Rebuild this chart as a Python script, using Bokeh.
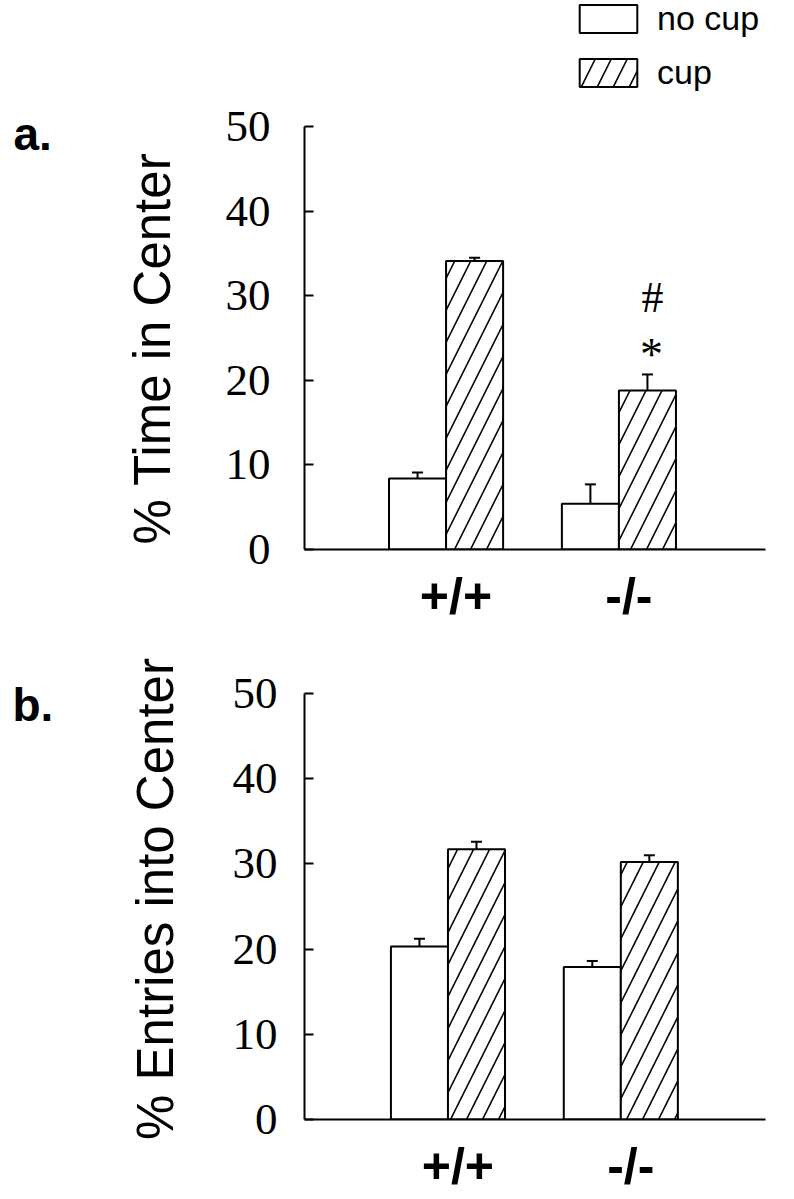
from bokeh.plotting import figure
from bokeh.models import (Range1d, FixedTicker, Whisker, TeeHead, ColumnDataSource,
                          Label, Legend, LegendItem, CustomJSTickFormatter, Title)
from bokeh.layouts import column
from bokeh.embed import file_html
from bokeh.resources import INLINE

# ---------------- data ----------------
genotypes = ["+/+", "-/-"]
series_names = ["no cup", "cup"]
y_ticks = [0, 10, 20, 30, 40, 50]

time_nocup = [8.4, 5.4]
time_nocup_err = [0.7, 2.3]
time_cup = [34.1, 18.8]
time_cup_err = [0.4, 1.9]

entries_nocup = [20.3, 17.9]
entries_nocup_err = [0.9, 0.7]
entries_cup = [31.7, 30.2]
entries_cup_err = [0.9, 0.8]

panel_tags = ["a.", "b."]
y_titles = ["% Time in Center", "% Entries into Center"]
sig_marks = ["#", "*"]

# ---------------- style ----------------
BAR_W = 0.33
OFF = BAR_W / 2
LABEL_SHIFT = 0.0575
SERIF = "Liberation Serif"
SANS = "Liberation Sans"
FIG_W = 780


def make_panel(nocup, nocup_err, cup, cup_err, tag, ytitle, height, mb_left, mb_right,
               mb_top, mb_bottom, px_per_unit, xr, tick_standoff, title_size,
               title_mode, title_standoff, title_offset, tag_xy):
    frame_h = height - mb_bottom - mb_top
    p = figure(width=FIG_W, height=height, output_backend="svg", toolbar_location=None,
               x_range=Range1d(*xr), y_range=Range1d(0, frame_h / px_per_unit),
               min_border_left=mb_left, min_border_right=mb_right,
               min_border_top=mb_top, min_border_bottom=mb_bottom)
    p.outline_line_color = None
    p.grid.visible = False
    p.background_fill_color = "white"
    p.border_fill_color = "white"

    idx = list(range(len(genotypes)))
    src_n = ColumnDataSource(dict(x=[i - OFF for i in idx], top=nocup,
                                  upper=[v + e for v, e in zip(nocup, nocup_err)]))
    src_c = ColumnDataSource(dict(x=[i + OFF for i in idx], top=cup,
                                  upper=[v + e for v, e in zip(cup, cup_err)]))

    for src in (src_n, src_c):
        p.add_layout(Whisker(source=src, base="x", lower="top", upper="upper",
                             line_color="black", line_width=2,
                             upper_head=TeeHead(size=11, line_color="black", line_width=2),
                             lower_head=None, level="glyph"))

    r_n = p.vbar(x="x", top="top", width=BAR_W, bottom=0, source=src_n,
                 fill_color="white", line_color="black", line_width=2)
    r_c = p.vbar(x="x", top="top", width=BAR_W, bottom=0, source=src_c,
                 fill_color="white", line_color="black", line_width=2,
                 hatch_pattern="/", hatch_color="black", hatch_scale=32, hatch_weight=1.6)

    # main y axis
    ya = p.yaxis[0]
    ya.ticker = FixedTicker(ticks=y_ticks)
    ya.bounds = (0, 50)
    ya.axis_line_width = 2
    ya.major_tick_line_width = 2
    ya.major_tick_in = 9
    ya.major_tick_out = 0
    ya.minor_tick_line_color = None
    ya.major_label_standoff = tick_standoff
    ya.major_label_text_font = SERIF
    ya.major_label_text_font_size = "45px"
    ya.major_label_text_color = "black"

    if title_mode == "axis":
        ya.axis_label = ytitle
        ya.axis_label_text_font = SANS
        ya.axis_label_text_font_style = "normal"
        ya.axis_label_text_font_size = f"{title_size}px"
        ya.axis_label_text_color = "black"
        ya.axis_label_standoff = title_standoff
    else:
        # side title, aligned to the bottom of the frame
        p.add_layout(Title(text=ytitle, align="left", vertical_align="bottom",
                           offset=title_offset, standoff=title_standoff,
                           text_font=SANS, text_font_style="normal",
                           text_font_size=f"{title_size}px", text_color="black"), "left")

    # panel tag, placed in the left border panel (not clipped by the frame)
    p.add_layout(Label(x=tag_xy[0], y=tag_xy[1], text=tag, text_align="left",
                       text_baseline="alphabetic", text_font=SANS,
                       text_font_style="bold", text_font_size="46px",
                       text_color="black"), "left")

    # x axis: baseline plus genotype labels
    xa = p.xaxis[0]
    xa.ticker = FixedTicker(ticks=[i + LABEL_SHIFT for i in idx])
    xa.formatter = CustomJSTickFormatter(args=dict(labels=genotypes),
                                         code="return labels[Math.round(tick)];")
    xa.axis_line_width = 2
    xa.major_tick_line_color = None
    xa.major_tick_out = 0
    xa.major_tick_in = 0
    xa.minor_tick_line_color = None
    xa.major_label_standoff = 18
    xa.major_label_text_font = SANS
    xa.major_label_text_font_style = "bold"
    xa.major_label_text_font_size = "50px"
    xa.major_label_text_color = "black"
    return p, r_n, r_c


pa, ra_n, ra_c = make_panel(time_nocup, time_nocup_err, time_cup, time_cup_err,
                            panel_tags[0], y_titles[0], height=626, mb_left=301,
                            mb_right=FIG_W - 765, mb_top=0, mb_bottom=69, px_per_unit=8.58,
                            xr=(-0.819, 1.848), tick_standoff=34, title_size=51,
                            title_mode="title", title_standoff=84, title_offset=5,
                            tag_xy=(-2.503, 49.18))

pb, rb_n, rb_c = make_panel(entries_nocup, entries_nocup_err, entries_cup, entries_cup_err,
                            panel_tags[1], y_titles[1], height=570, mb_left=304,
                            mb_right=FIG_W - 768, mb_top=52, mb_bottom=72, px_per_unit=8.62,
                            xr=(-0.830, 1.837), tick_standoff=27, title_size=51,
                            title_mode="axis", title_standoff=46, title_offset=0,
                            tag_xy=(-2.520, 48.61))

# significance marks above the -/- cup bar in panel a
top_c = time_cup[1] + time_cup_err[1]
pa.add_layout(Label(x=1 + OFF, y=top_c, y_offset=77, x_offset=5, text=sig_marks[0],
                    text_align="center", text_baseline="alphabetic", text_font=SERIF,
                    text_font_size="44px", text_color="black"))
pa.add_layout(Label(x=1 + OFF, y=top_c, y_offset=20, x_offset=4, text=sig_marks[1],
                    text_align="center", text_baseline="alphabetic", text_font=SERIF,
                    text_font_size="46px", text_color="black"))

# legend at the top of panel a
legend = Legend(items=[LegendItem(label=series_names[0], renderers=[ra_n]),
                       LegendItem(label=series_names[1], renderers=[ra_c])],
                location=(268, 457), orientation="vertical",
                glyph_width=72, glyph_height=35, label_standoff=13, spacing=15,
                padding=0, margin=0, border_line_color=None, background_fill_alpha=0,
                label_text_font=SANS, label_text_font_size="34px", label_text_color="black")
pa.add_layout(legend)

layout = column(pa, pb, spacing=0)
open("out.html", "w").write(file_html(layout, INLINE))
